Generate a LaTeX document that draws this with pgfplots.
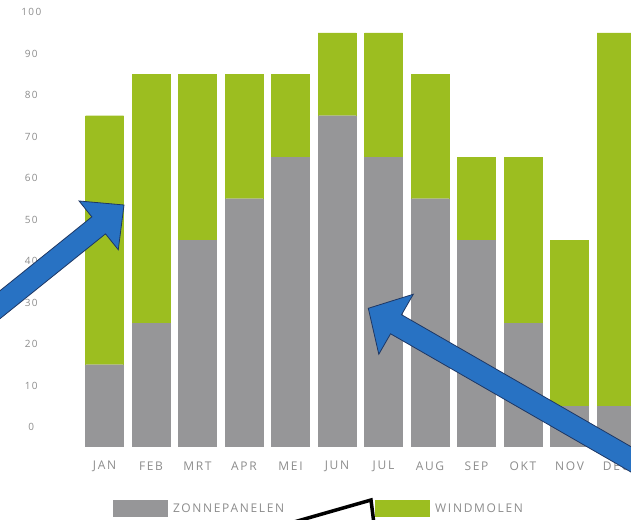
\documentclass[border=0pt]{standalone}
\usepackage{fontspec}
\setmainfont{Open Sans}
\newfontfamily\spaced{Open Sans}[LetterSpace=14]
\usepackage{pgfplots}
\usepackage{pgfplotstable}
\pgfplotsset{compat=1.18}
\definecolor{zgray}{RGB}{150,150,152}
\definecolor{wgreen}{RGB}{156,190,32}
\definecolor{lblgray}{RGB}{140,140,140}
\definecolor{arrowblue}{RGB}{40,114,195}
\definecolor{arrowedge}{RGB}{30,55,100}
\pgfplotsset{swatch legend/.style={legend image code/.code={\fill[##1,draw=none] (0pt,-8.5pt) rectangle (55pt,8.5pt);}}}
\pgfplotstableread{
idx zon wind
0 15 60
1 25 60
2 45 40
3 55 30
4 65 20
5 75 20
6 65 30
7 55 30
8 45 20
9 25 40
10 5 40
11 5 90
}\datatable
\pgfplotstableread{
idx base
0 -4.6
1 -4.6
2 -4.6
3 -4.6
4 -4.6
5 -4.6
6 -4.6
7 -4.6
8 -4.6
9 -4.6
10 -4.6
11 -4.6
}\basetable
\begin{document}
\begin{tikzpicture}[x=1pt,y=1pt]
\useasboundingbox (0,0) rectangle (631,519);
\begin{scope}
\clip (0,0) rectangle (631,519);
% extension of bars below zero
\begin{axis}[at={(81.25pt,73pt)}, anchor=south west, scale only axis,
  width=558pt, height=446pt, xmin=-0.5, xmax=11.5, ymin=-4.6, ymax=102.9,
  hide axis, ybar, bar width=38pt]
\addplot[fill=zgray, draw=zgray, line width=0.3pt, bar shift=0pt] table[x=idx,y=base] {\basetable};
\end{axis}
\begin{axis}[at={(81.25pt,73pt)}, anchor=south west, scale only axis,
  width=558pt, height=446pt, xmin=-0.5, xmax=11.5, ymin=-4.6, ymax=102.9,
  ybar stacked, bar width=38pt,
  axis line style={draw=none}, tick style={draw=none}, major tick length=0pt,
  xtick={0,...,11},
  xticklabels={JAN,FEB,MRT,APR,MEI,JUN,JUL,AUG,SEP,OKT,NOV,DEC},
  ytick={0,10,...,100},
  /pgf/number format/assume math mode=true,
  yticklabel style={anchor=center, xshift=-50pt, font=\spaced\fontsize{10}{11}\selectfont, text=lblgray},
  xticklabel style={anchor=center, yshift=-20pt, font=\spaced\fontsize{12}{13}\selectfont, text=lblgray},
  legend columns=2,
  legend style={at={(axis description cs:0.0569,-0.1401)}, anchor=west, draw=none, fill=none,
    inner sep=0pt, outer sep=0pt,
    nodes={inner sep=0pt, text=lblgray, font=\spaced\fontsize{12}{13}\selectfont},
    /tikz/every odd column/.style={column sep=5pt},
    /tikz/every even column/.style={column sep=91pt}},
]
\addplot[fill=zgray, draw=zgray, line width=0.3pt, swatch legend] table[x=idx,y=zon] {\datatable};
\addlegendentry{ZONNEPANELEN}
\addplot[fill=wgreen, draw=wgreen, line width=0.3pt, swatch legend] table[x=idx,y=wind] {\datatable};
\addlegendentry{WINDMOLEN}
\end{axis}
% annotation arrows
\begin{scope}[shift={(124,314)}, rotate=38.8]
\filldraw[fill=arrowblue, draw=arrowedge, line width=0.8pt]
  (0,0) -- (-32.5,31.3) -- (-32.5,10.9) -- (-260,10.9) -- (-260,-10.9) -- (-32.5,-10.9) -- (-32.5,-31.3) -- cycle;
\end{scope}
\begin{scope}[shift={(368.3,210.7)}, rotate=150.1]
\filldraw[fill=arrowblue, draw=arrowedge, line width=0.8pt]
  (0,0) -- (-32,34.6) -- (-32,11) -- (-360,11) -- (-360,-11) -- (-32,-11) -- (-32,-34.6) -- cycle;
\end{scope}
\draw[line width=3.5pt, fill=white, line join=miter] (287,-5) -- (371,19) -- (374,-5);
\end{scope}
\end{tikzpicture}
\end{document}
